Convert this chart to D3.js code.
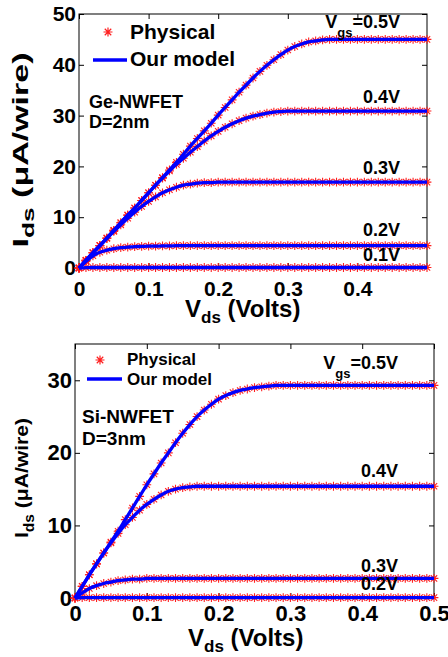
<!DOCTYPE html>
<html>
<head>
<meta charset="utf-8">
<script src="https://cdn.jsdelivr.net/npm/d3@7"></script>
<style>
body { margin: 0; background: #fff; }
svg text { font-family: Arial, "Liberation Sans", sans-serif; font-weight: bold; fill: #000; }
</style>
</head>
<body>
<div id="chart"></div>
<script>
// drain voltage grid (V)
var vds = [0, 0.01, 0.02, 0.03, 0.04, 0.05, 0.06, 0.07, 0.08, 0.09,
    0.10, 0.11, 0.12, 0.13, 0.14, 0.15, 0.16, 0.17, 0.18, 0.19,
    0.20, 0.21, 0.22, 0.23, 0.24, 0.25, 0.26, 0.27, 0.28, 0.29,
    0.30, 0.31, 0.32, 0.33, 0.34, 0.35, 0.36, 0.37, 0.38, 0.39,
    0.40, 0.41, 0.42, 0.43, 0.44, 0.45, 0.46, 0.47, 0.48, 0.49,
    0.50];

// Ge-NWFET, D=2nm  (uA/wire)
var geVgs05 = [0, 1.5, 3.0, 4.4, 5.9, 7.4, 8.9, 10.4, 11.8, 13.3,
    14.8, 16.3, 17.8, 19.3, 20.8, 22.4, 24.0, 25.5, 27.0, 28.5,
    30.1, 31.6, 33.1, 34.6, 36.0, 37.4, 38.7, 39.9, 41.0, 42.0,
    42.9, 43.6, 44.1, 44.5, 44.7, 44.9, 45.0, 45.0, 45.0, 45.0,
    45.0, 45.0, 45.0, 45.0, 45.0, 45.0, 45.0, 45.0, 45.0, 45.0,
    45.0];
var geVgs04 = [0, 1.5, 3.0, 4.4, 5.9, 7.4, 8.9, 10.4, 11.8, 13.3,
    14.8, 16.3, 17.7, 19.1, 20.4, 21.6, 22.8, 23.9, 25.0, 26.0,
    26.9, 27.7, 28.4, 29.0, 29.5, 29.9, 30.2, 30.5, 30.7, 30.8,
    30.9, 30.9, 30.9, 30.9, 30.9, 30.9, 30.9, 30.9, 30.9, 30.9,
    30.9, 30.9, 30.9, 30.9, 30.9, 30.9, 30.9, 30.9, 30.9, 30.9,
    30.9];
var geVgs03 = [0, 1.5, 3.0, 4.4, 5.8, 7.2, 8.5, 9.8, 11.0, 12.1,
    13.1, 14.0, 14.8, 15.4, 15.9, 16.3, 16.5, 16.7, 16.8, 16.8,
    16.9, 16.9, 16.9, 16.9, 16.9, 16.9, 16.9, 16.9, 16.9, 16.9,
    16.9, 16.9, 16.9, 16.9, 16.9, 16.9, 16.9, 16.9, 16.9, 16.9,
    16.9, 16.9, 16.9, 16.9, 16.9, 16.9, 16.9, 16.9, 16.9, 16.9,
    16.9];
var geVgs02 = [0, 1.3, 2.4, 3.1, 3.5, 3.8, 4.0, 4.1, 4.2, 4.25,
    4.3, 4.3, 4.35, 4.35, 4.4, 4.4, 4.4, 4.4, 4.4, 4.4,
    4.4, 4.4, 4.4, 4.4, 4.4, 4.4, 4.4, 4.4, 4.4, 4.4,
    4.4, 4.4, 4.4, 4.4, 4.4, 4.4, 4.4, 4.4, 4.4, 4.4,
    4.4, 4.4, 4.4, 4.4, 4.4, 4.4, 4.4, 4.4, 4.4, 4.4,
    4.4];
var geVgs01 = [0, 0.08, 0.1, 0.1, 0.1, 0.1, 0.1, 0.1, 0.1, 0.1,
    0.1, 0.1, 0.1, 0.1, 0.1, 0.1, 0.1, 0.1, 0.1, 0.1,
    0.1, 0.1, 0.1, 0.1, 0.1, 0.1, 0.1, 0.1, 0.1, 0.1,
    0.1, 0.1, 0.1, 0.1, 0.1, 0.1, 0.1, 0.1, 0.1, 0.1,
    0.1, 0.1, 0.1, 0.1, 0.1, 0.1, 0.1, 0.1, 0.1, 0.1,
    0.1];
var geLabels = ["0.5V", "0.4V", "0.3V", "0.2V", "0.1V"];

// Si-NWFET, D=3nm  (uA/wire)
var siVgs05 = [0, 1.6, 3.2, 4.7, 6.2, 7.7, 9.2, 10.8, 12.4, 14.0,
    15.6, 17.1, 18.6, 20.0, 21.4, 22.7, 23.9, 25.0, 25.9, 26.7,
    27.4, 27.9, 28.3, 28.6, 28.8, 29.0, 29.1, 29.2, 29.3, 29.3,
    29.3, 29.3, 29.3, 29.3, 29.3, 29.3, 29.3, 29.3, 29.3, 29.3,
    29.3, 29.3, 29.3, 29.3, 29.3, 29.3, 29.3, 29.3, 29.3, 29.3,
    29.3];
var siVgs04 = [0, 1.6, 3.2, 4.7, 6.2, 7.6, 8.9, 10.1, 11.1, 12.1,
    12.9, 13.6, 14.2, 14.7, 15.0, 15.2, 15.3, 15.4, 15.4, 15.4,
    15.4, 15.4, 15.4, 15.4, 15.4, 15.4, 15.4, 15.4, 15.4, 15.4,
    15.4, 15.4, 15.4, 15.4, 15.4, 15.4, 15.4, 15.4, 15.4, 15.4,
    15.4, 15.4, 15.4, 15.4, 15.4, 15.4, 15.4, 15.4, 15.4, 15.4,
    15.4];
var siVgs03 = [0, 0.7, 1.3, 1.7, 2.0, 2.2, 2.4, 2.5, 2.6, 2.6,
    2.7, 2.7, 2.7, 2.7, 2.7, 2.7, 2.7, 2.7, 2.7, 2.7,
    2.7, 2.7, 2.7, 2.7, 2.7, 2.7, 2.7, 2.7, 2.7, 2.7,
    2.7, 2.7, 2.7, 2.7, 2.7, 2.7, 2.7, 2.7, 2.7, 2.7,
    2.7, 2.7, 2.7, 2.7, 2.7, 2.7, 2.7, 2.7, 2.7, 2.7,
    2.7];
var siVgs02 = [0, 0.05, 0.05, 0.05, 0.05, 0.05, 0.05, 0.05, 0.05, 0.05,
    0.05, 0.05, 0.05, 0.05, 0.05, 0.05, 0.05, 0.05, 0.05, 0.05,
    0.05, 0.05, 0.05, 0.05, 0.05, 0.05, 0.05, 0.05, 0.05, 0.05,
    0.05, 0.05, 0.05, 0.05, 0.05, 0.05, 0.05, 0.05, 0.05, 0.05,
    0.05, 0.05, 0.05, 0.05, 0.05, 0.05, 0.05, 0.05, 0.05, 0.05,
    0.05];
var siLabels = ["0.5V", "0.4V", "0.3V", "0.2V"];

var geXTicks = [0, 0.1, 0.2, 0.3, 0.4];
var geYTicks = [0, 10, 20, 30, 40, 50];
var siXTicks = [0, 0.1, 0.2, 0.3, 0.4, 0.5];
var siYTicks = [0, 10, 20, 30];

var W = 448, H = 657;
var RED = "#ff2020", BLUE = "#0000ff";

var svg = d3.select("#chart").append("svg")
    .attr("width", W)
    .attr("height", H);

// matlab style '*' marker
function asterisk(r) {
    var a = r * 0.72;
    return "M" + (-r) + ",0L" + r + ",0M0," + (-r) + "L0," + r +
        "M" + (-a) + "," + (-a) + "L" + a + "," + a +
        "M" + (-a) + "," + a + "L" + a + "," + (-a);
}

function drawChart(cfg) {
    var g = svg.append("g");
    var x = d3.scaleLinear().domain(cfg.xDomain).range([cfg.left, cfg.right]);
    var y = d3.scaleLinear().domain(cfg.yDomain).range([cfg.bottom, cfg.top]);

    // box
    g.append("rect")
        .attr("x", cfg.left).attr("y", cfg.top)
        .attr("width", cfg.right - cfg.left).attr("height", cfg.bottom - cfg.top)
        .attr("fill", "none").attr("stroke", "#000").attr("stroke-width", 1);

    var fmt = d3.format("~g");
    var axes = [
        d3.axisBottom(x).tickValues(cfg.xTicks).tickFormat(fmt).tickPadding(cfg.xPad),
        d3.axisTop(x).tickValues(cfg.xTicks).tickFormat(""),
        d3.axisLeft(y).tickValues(cfg.yTicks).tickFormat(fmt).tickPadding(cfg.yPad),
        d3.axisRight(y).tickValues(cfg.yTicks).tickFormat("")
    ];
    var shifts = ["0," + cfg.bottom, "0," + cfg.top, cfg.left + ",0", cfg.right + ",0"];
    axes.forEach(function (ax, i) {
        var a = g.append("g")
            .attr("transform", "translate(" + shifts[i] + ")")
            .call(ax.tickSize(-5).tickSizeOuter(0));
        a.select(".domain").remove();
        a.selectAll("line").attr("stroke", "#000");
        a.selectAll("text")
            .attr("font-size", cfg.tickFont)
            .attr("font-family", null);
        a.attr("font-family", null).attr("font-size", null);
    });

    var line = d3.line()
        .x(function (d, i) { return x(vds[i]); })
        .y(function (d) { return y(d); })
        .curve(d3.curveMonotoneX);

    cfg.series.forEach(function (s) {
        g.append("g").selectAll("path")
            .data(s)
            .enter()
            .append("path")
            .attr("d", asterisk(4.4))
            .attr("transform", function (d, i) { return "translate(" + x(vds[i]) + "," + y(d) + ")"; })
            .attr("fill", "none")
            .attr("stroke", RED)
            .attr("stroke-width", 1.1);
    });
    cfg.series.forEach(function (s) {
        g.append("path")
            .datum(s)
            .attr("d", line)
            .attr("fill", "none")
            .attr("stroke", BLUE)
            .attr("stroke-width", 3.3);
    });

    // curve labels
    cfg.labels.forEach(function (lab, i) {
        var s = cfg.series[i];
        var t = g.append("text")
            .attr("x", cfg.labelX)
            .attr("y", y(s[s.length - 1]) + cfg.labelDy[i])
            .attr("text-anchor", "end")
            .attr("font-size", cfg.labelFont);
        if (i === 0) {
            t.append("tspan").text("V");
            t.append("tspan").attr("dy", 9).attr("font-size", cfg.labelFont - 5).text("gs");
            t.append("tspan").attr("dy", -9).text("=" + lab);
        } else {
            t.text(lab);
        }
    });

    // legend
    var L = cfg.legend;
    g.append("path")
        .attr("d", asterisk(L.r))
        .attr("transform", "translate(" + L.mx + "," + L.my + ")")
        .attr("fill", "none").attr("stroke", RED).attr("stroke-width", 1.2);
    g.append("line")
        .attr("x1", L.x1).attr("x2", L.x2).attr("y1", L.ly).attr("y2", L.ly)
        .attr("stroke", BLUE).attr("stroke-width", 3.6);
    g.append("text").attr("x", L.tx).attr("y", L.ty1).attr("font-size", L.font).text("Physical");
    g.append("text").attr("x", L.tx).attr("y", L.ty2).attr("font-size", L.font).text("Our model");

    // device note
    cfg.note.forEach(function (n, i) {
        g.append("text")
            .attr("x", cfg.noteX)
            .attr("y", cfg.noteY[i])
            .attr("font-size", cfg.noteFont)
            .text(n);
    });

    // x title
    var xt = g.append("text")
        .attr("x", cfg.xTitleX)
        .attr("y", cfg.xTitleY)
        .attr("font-size", 24);
    xt.append("tspan").text("V");
    xt.append("tspan").attr("dy", 6).attr("font-size", 17).text("ds");
    xt.append("tspan").attr("dy", -6).text(" (Volts)");

    // y title
    var yt = g.append("text")
        .attr("transform", "translate(" + cfg.yTitleX + "," + cfg.yTitleY + ") rotate(-90)")
        .attr("text-anchor", "middle")
        .attr("font-size", cfg.yTitleFont)
        .attr("textLength", cfg.yTitleLen)
        .attr("lengthAdjust", "spacingAndGlyphs");
    yt.append("tspan").text("I");
    yt.append("tspan").attr("dy", 6).attr("font-size", cfg.yTitleFont - 5).text("ds");
    yt.append("tspan").attr("dy", -6).text(" (\u03bcA/wire)");
}

drawChart({
    left: 79, right: 427, top: 14, bottom: 268,
    xDomain: [0, 0.5], yDomain: [0, 50],
    xTicks: geXTicks, yTicks: geYTicks,
    tickFont: 21, xPad: 13, yPad: 3,
    series: [geVgs05, geVgs04, geVgs03, geVgs02, geVgs01],
    labels: geLabels,
    labelX: 400, labelDy: [-11, -8, -8, -10, -6], labelFont: 18,
    legend: { mx: 108, my: 32, r: 4.5, x1: 93, x2: 127, ly: 60, tx: 130, ty1: 39, ty2: 66, font: 21 },
    note: ["Ge-NWFET", "D=2nm"], noteX: 89, noteY: [108, 128], noteFont: 18,
    xTitleX: 185, xTitleY: 317,
    yTitleX: 28, yTitleY: 150, yTitleFont: 22, yTitleLen: 195
});

drawChart({
    left: 75, right: 434, top: 344, bottom: 598,
    xDomain: [0, 0.5], yDomain: [0, 35],
    xTicks: siXTicks, yTicks: siYTicks,
    tickFont: 22, xPad: 7, yPad: 3,
    series: [siVgs05, siVgs04, siVgs03, siVgs02],
    labels: siLabels,
    labelX: 398, labelDy: [-16, -9, -6, -8], labelFont: 18,
    legend: { mx: 100, my: 360, r: 4.5, x1: 87, x2: 122, ly: 379, tx: 127, ty1: 365, ty2: 385, font: 17 },
    note: ["Si-NWFET", "D=3nm"], noteX: 82, noteY: [423, 445], noteFont: 19,
    xTitleX: 188, xTitleY: 646,
    yTitleX: 28, yTitleY: 478, yTitleFont: 19, yTitleLen: 120
});
</script>
</body>
</html>
